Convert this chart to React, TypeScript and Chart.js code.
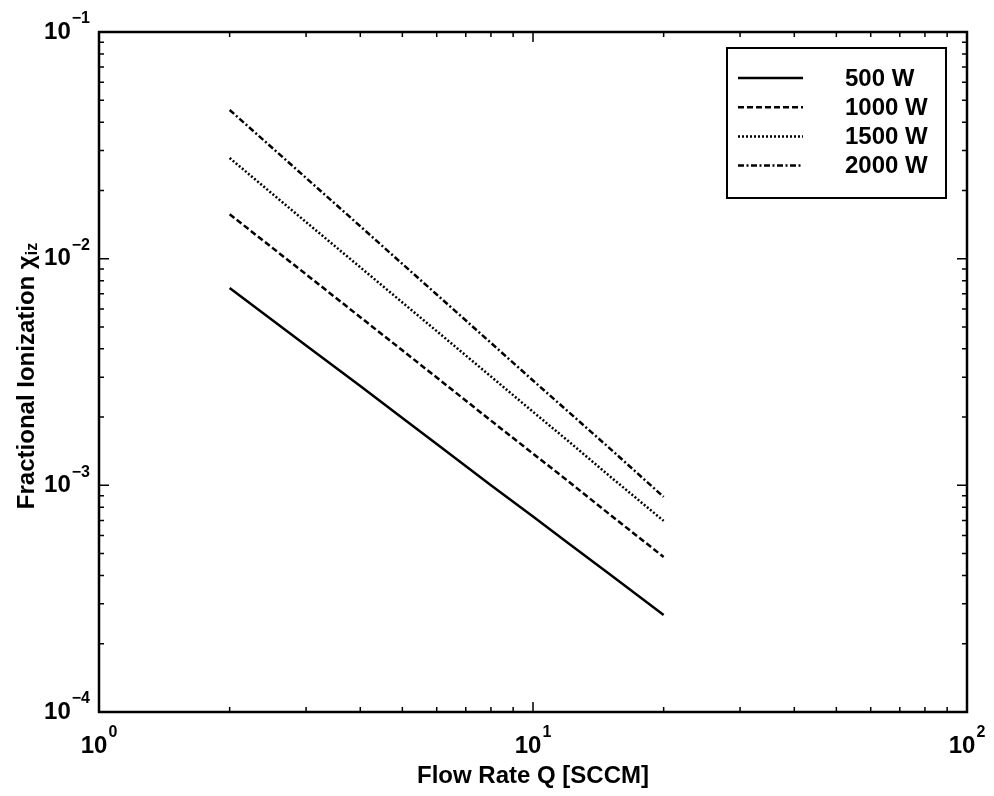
import React, { useEffect, useRef } from "react";
import { Chart, registerables } from "chart.js";

Chart.register(...registerables);

// ---- data ----
const flowRate = [2, 3, 4, 5, 6, 8, 10, 12, 15, 20];
const ion500 = [7.43e-3, 4.14e-3, 2.74e-3, 1.98e-3, 1.52e-3, 1.0e-3, 7.28e-4, 5.6e-4, 4.06e-4, 2.68e-4];
const ion1000 = [1.57e-2, 8.53e-3, 5.52e-3, 3.94e-3, 2.99e-3, 1.93e-3, 1.38e-3, 1.05e-3, 7.46e-4, 4.83e-4];
const ion1500 = [2.78e-2, 1.45e-2, 9.16e-3, 6.41e-3, 4.79e-3, 3.02e-3, 2.11e-3, 1.58e-3, 1.1e-3, 6.97e-4];
const ion2000 = [4.53e-2, 2.27e-2, 1.39e-2, 9.48e-3, 6.95e-3, 4.25e-3, 2.9e-3, 2.13e-3, 1.46e-3, 8.89e-4];
const seriesLabels = ["500 W", "1000 W", "1500 W", "2000 W"];
const xTickExponents = [0, 1, 2];
const yTickExponents = [-4, -3, -2, -1];
const xTitle = "Flow Rate Q [SCCM]";
const yTitleMain = "Fractional Ionization \u03C7";
const yTitleSub = "iz";

const FONT = "'Liberation Sans', Arial, Helvetica, sans-serif";

const dashes: number[][] = [[], [6, 3], [2, 2], [6, 2.5, 2, 2.5]];

function toPoints(ys: number[]) {
  return flowRate.map((x, i) => ({ x, y: ys[i] }));
}

const decorPlugin = {
  id: "decor",
  beforeDraw(chart: any) {
    const ctx = chart.ctx;
    ctx.save();
    ctx.fillStyle = "#ffffff";
    ctx.fillRect(0, 0, chart.width, chart.height);
    ctx.restore();
  },
  afterDraw(chart: any) {
    const ctx: CanvasRenderingContext2D = chart.ctx;
    const xs = chart.scales.x;
    const ys = chart.scales.y;
    const { left, right, top, bottom } = chart.chartArea;
    ctx.save();
    ctx.strokeStyle = "#000";
    ctx.fillStyle = "#000";

    // frame
    ctx.lineWidth = 2.5;
    ctx.strokeRect(left, top, right - left, bottom - top);

    // ticks (inward, all four sides)
    ctx.lineWidth = 1.5;
    const majLen = 10;
    const minLen = 5;
    for (let e = xTickExponents[0]; e < xTickExponents[xTickExponents.length - 1] + 1; e++) {
      for (let m = 1; m <= 9; m++) {
        const v = m * Math.pow(10, e);
        if (v > xs.max * 1.0001) continue;
        const px = xs.getPixelForValue(v);
        const len = m === 1 ? majLen : minLen;
        ctx.beginPath();
        ctx.moveTo(px, bottom);
        ctx.lineTo(px, bottom - len);
        ctx.moveTo(px, top);
        ctx.lineTo(px, top + len);
        ctx.stroke();
      }
    }
    for (let e = yTickExponents[0]; e < yTickExponents[yTickExponents.length - 1] + 1; e++) {
      for (let m = 1; m <= 9; m++) {
        const v = m * Math.pow(10, e);
        if (v > ys.max * 1.0001) continue;
        const py = ys.getPixelForValue(v);
        const len = m === 1 ? majLen : minLen;
        ctx.beginPath();
        ctx.moveTo(left, py);
        ctx.lineTo(left + len, py);
        ctx.moveTo(right, py);
        ctx.lineTo(right - len, py);
        ctx.stroke();
      }
    }

    const baseFont = "bold 24px " + FONT;
    const expFont = "bold 16px " + FONT;

    // x tick labels
    ctx.textBaseline = "middle";
    xTickExponents.forEach((e) => {
      const px = xs.getPixelForValue(Math.pow(10, e));
      ctx.font = baseFont;
      const w1 = ctx.measureText("10").width;
      ctx.font = expFont;
      const es = String(e).replace("-", "\u2212");
      const w2 = ctx.measureText(es).width;
      const start = px - (w1 + w2 + 1) / 2;
      ctx.font = baseFont;
      ctx.textAlign = "left";
      ctx.fillText("10", start, bottom + 34);
      ctx.font = expFont;
      ctx.fillText(es, start + w1 + 1, bottom + 21);
    });

    // y tick labels
    yTickExponents.forEach((e) => {
      const py = ys.getPixelForValue(Math.pow(10, e));
      ctx.font = expFont;
      const es = String(e).replace("-", "\u2212");
      const w2 = ctx.measureText(es).width;
      const rightEdge = left - 9;
      ctx.textAlign = "left";
      ctx.fillText(es, rightEdge - w2, py - 13);
      ctx.font = baseFont;
      ctx.textAlign = "right";
      ctx.fillText("10", rightEdge - w2 - 1, py);
    });

    // x title
    ctx.font = "bold 24px " + FONT;
    ctx.textAlign = "center";
    ctx.fillText(xTitle, (left + right) / 2, bottom + 64);

    // y title (rotated)
    ctx.save();
    ctx.translate(27, (top + bottom) / 2 + 4);
    ctx.rotate(-Math.PI / 2);
    ctx.font = "bold 24px " + FONT;
    const wm = ctx.measureText(yTitleMain).width;
    ctx.font = "bold 16px " + FONT;
    const ws = ctx.measureText(yTitleSub).width;
    const s0 = -(wm + ws) / 2;
    ctx.textAlign = "left";
    ctx.font = "bold 24px " + FONT;
    ctx.fillText(yTitleMain, s0, 0);
    ctx.font = "bold 16px " + FONT;
    ctx.fillText(yTitleSub, s0 + wm, 6);
    ctx.restore();

    // legend
    const lgLeft = 727;
    const lgRight = 946;
    const lgTop = 48;
    const lgBottom = 198;
    ctx.fillStyle = "#fff";
    ctx.fillRect(lgLeft, lgTop, lgRight - lgLeft, lgBottom - lgTop);
    ctx.lineWidth = 2;
    ctx.strokeStyle = "#000";
    ctx.strokeRect(lgLeft, lgTop, lgRight - lgLeft, lgBottom - lgTop);
    ctx.fillStyle = "#000";
    ctx.font = "bold 24px " + FONT;
    ctx.textAlign = "left";
    chart.data.datasets.forEach((ds: any, i: number) => {
      const y = 78 + i * 29.2;
      ctx.save();
      ctx.lineWidth = ds.borderWidth;
      ctx.setLineDash(ds.borderDash || []);
      ctx.beginPath();
      ctx.moveTo(lgLeft + 11, y);
      ctx.lineTo(803, y);
      ctx.stroke();
      ctx.restore();
      ctx.fillText(ds.label, 845, y + 1);
    });

    ctx.restore();
  },
};

export default function App() {
  const ref = useRef<HTMLCanvasElement | null>(null);
  useEffect(() => {
    if (!ref.current) return;
    const seriesData = [ion500, ion1000, ion1500, ion2000];
    const chart = new Chart(ref.current, {
      type: "line",
      data: {
        datasets: seriesData.map((d, i) => ({
          label: seriesLabels[i],
          data: toPoints(d),
          borderColor: "#000",
          borderWidth: 2.5,
          borderDash: dashes[i],
          pointRadius: 0,
          tension: 0,
          fill: false,
        })),
      },
      options: {
        responsive: false,
        animation: false,
        devicePixelRatio: 1,
        layout: { padding: { left: 99, top: 32, right: 27, bottom: 84 } },
        plugins: { legend: { display: false }, tooltip: { enabled: false }, title: { display: false } },
        scales: {
          x: { type: "logarithmic", min: 1, max: 100, display: false },
          y: { type: "logarithmic", min: 1e-4, max: 1e-1, display: false },
        },
      },
      plugins: [decorPlugin],
    });
    return () => chart.destroy();
  }, []);
  return (
    <div style={{ position: "fixed", left: 0, top: 0, width: 994, height: 796, background: "#fff" }}>
      <canvas ref={ref} width={994} height={796} style={{ display: "block" }} />
    </div>
  );
}
